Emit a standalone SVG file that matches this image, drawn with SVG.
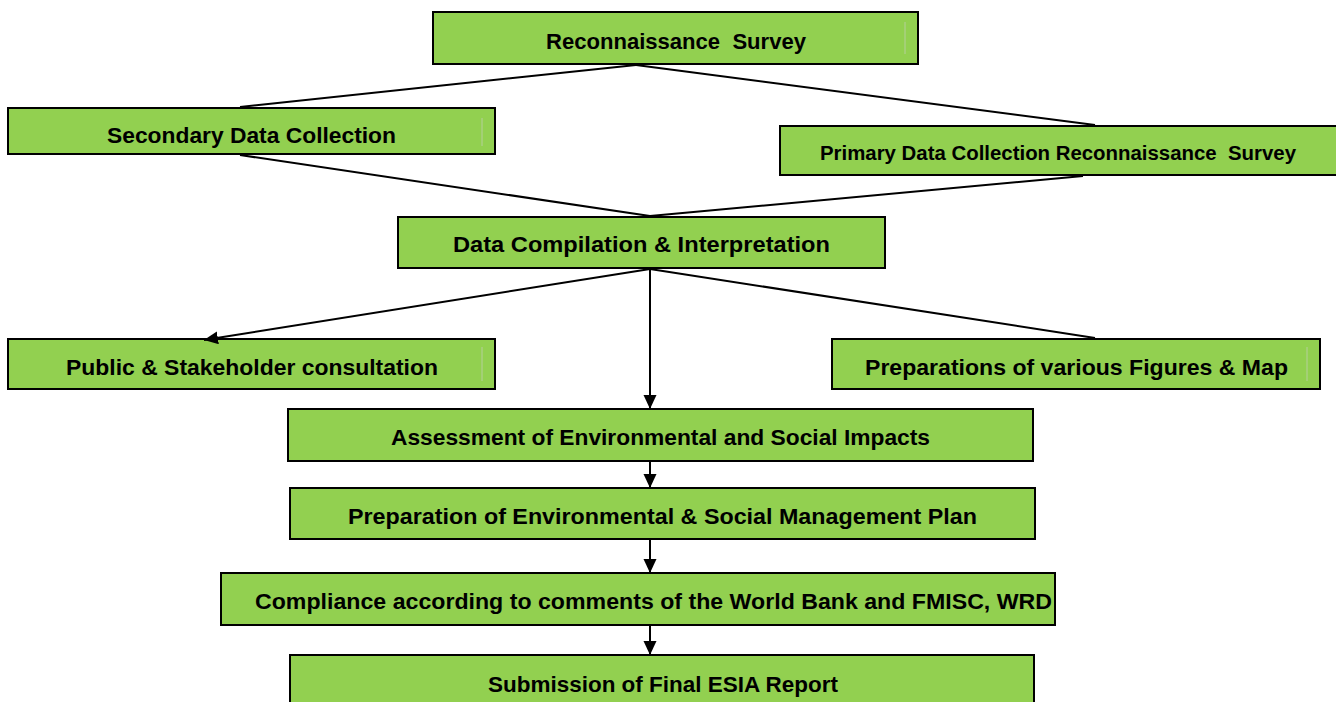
<svg xmlns="http://www.w3.org/2000/svg" width="1336" height="702" viewBox="0 0 1336 702">
<style>
.box{fill:#92D050;stroke:#000;stroke-width:2}
.hl{stroke:#b5cf9a;stroke-width:1}
.t{font-family:"Liberation Sans",Arial,sans-serif;font-weight:bold;font-size:22px;fill:#000;text-anchor:start;white-space:pre}
.c{stroke:#000;stroke-width:2;fill:none}
</style>
<defs>
<marker id="ahv" markerWidth="14" markerHeight="14" refX="14" refY="6.5" orient="auto" markerUnits="userSpaceOnUse">
<path d="M0,0 L14,6.5 L0,13 z" fill="#000"/>
</marker>
</defs>
<rect width="1336" height="702" fill="#fff"/>
<g id="n1"><rect class="box" x="433" y="12" width="485" height="52"/><line class="hl" x1="905" y1="22" x2="905" y2="54"/><text class="t" x="546" y="49" textLength="260" lengthAdjust="spacingAndGlyphs">Reconnaissance  Survey</text></g>
<g id="n2"><rect class="box" x="8" y="108" width="487" height="46"/><line class="hl" x1="482" y1="118" x2="482" y2="146"/><text class="t" x="107" y="143" textLength="289" lengthAdjust="spacingAndGlyphs">Secondary Data Collection</text></g>
<g id="n3"><rect class="box" x="780" y="126" width="560" height="49"/><text class="t" x="820" y="160" style="font-size:20px" textLength="476" lengthAdjust="spacingAndGlyphs">Primary Data Collection Reconnaissance  Survey</text></g>
<g id="n4"><rect class="box" x="398" y="217" width="487" height="51"/><text class="t" x="453" y="252" textLength="377" lengthAdjust="spacingAndGlyphs">Data Compilation &amp; Interpretation</text></g>
<g id="n5"><rect class="box" x="8" y="339" width="487" height="50"/><line class="hl" x1="482" y1="347" x2="482" y2="381"/><text class="t" x="66" y="375" textLength="372" lengthAdjust="spacingAndGlyphs">Public &amp; Stakeholder consultation</text></g>
<g id="n6"><rect class="box" x="832" y="339" width="488" height="50"/><line class="hl" x1="1307" y1="347" x2="1307" y2="381"/><text class="t" x="865" y="375" textLength="423" lengthAdjust="spacingAndGlyphs">Preparations of various Figures &amp; Map</text></g>
<g id="n7"><rect class="box" x="288" y="409" width="745" height="52"/><text class="t" x="391" y="445" textLength="539" lengthAdjust="spacingAndGlyphs">Assessment of Environmental and Social Impacts</text></g>
<g id="n8"><rect class="box" x="290" y="488" width="745" height="51"/><text class="t" x="348" y="524" textLength="629" lengthAdjust="spacingAndGlyphs">Preparation of Environmental &amp; Social Management Plan</text></g>
<g id="n9"><rect class="box" x="221" y="573" width="834" height="52"/><text class="t" x="255" y="609" textLength="797" lengthAdjust="spacingAndGlyphs">Compliance according to comments of the World Bank and FMISC, WRD</text></g>
<g id="n10"><rect class="box" x="290" y="655" width="744" height="52"/><text class="t" x="488" y="692" textLength="350" lengthAdjust="spacingAndGlyphs">Submission of Final ESIA Report</text></g>
<g id="connectors">
<line class="c" x1="636" y1="65" x2="240" y2="107"/>
<line class="c" x1="636" y1="65" x2="1095" y2="125"/>
<line class="c" x1="240" y1="155" x2="650" y2="216"/>
<line class="c" x1="1083" y1="176" x2="650" y2="216"/>
<line class="c" x1="650" y1="269" x2="204" y2="340" marker-end="url(#ahv)"/>
<line class="c" x1="650" y1="269" x2="1095" y2="338"/>
<line class="c" x1="650" y1="269" x2="650" y2="409" marker-end="url(#ahv)"/>
<line class="c" x1="650" y1="462" x2="650" y2="488" marker-end="url(#ahv)"/>
<line class="c" x1="650" y1="540" x2="650" y2="573" marker-end="url(#ahv)"/>
<line class="c" x1="650" y1="626" x2="650" y2="655" marker-end="url(#ahv)"/>
</g>
</svg>
